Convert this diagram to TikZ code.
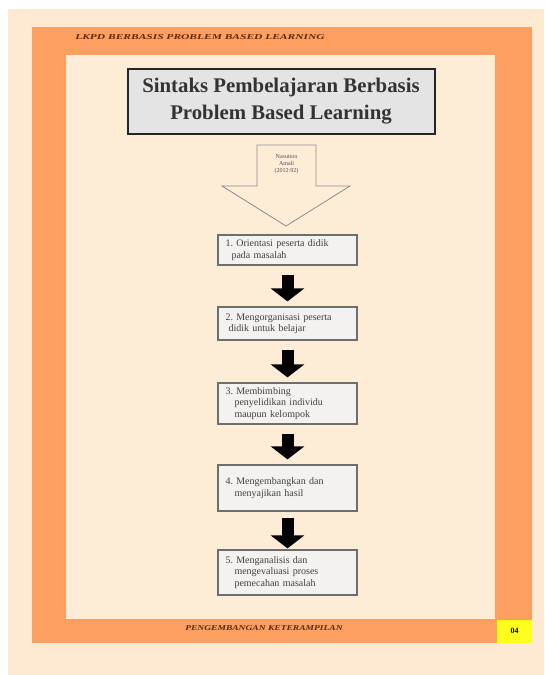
\documentclass[tikz,border=0pt]{standalone}
\usepackage{fontspec}
\setmainfont{Liberation Serif}
\usetikzlibrary{arrows.meta}
\frenchspacing
\definecolor{pagebg}{HTML}{FEEAD2}
\definecolor{frameor}{HTML}{FD9F60}
\definecolor{innerbg}{HTML}{FEEDD6}
\definecolor{titlefill}{HTML}{E4E4E4}
\definecolor{stepfill}{HTML}{F3F2F0}
\definecolor{stepline}{HTML}{6E6E6E}
\definecolor{hdrtext}{HTML}{5A2A10}
\definecolor{pgyellow}{HTML}{FFFF1E}
\tikzset{
  stepbox/.style={draw=stepline, line width=1.2pt, fill=stepfill, minimum width=139pt,
    text width=124pt, align=left, inner xsep=7.5pt, inner ysep=3.5pt,
    font=\fontsize{10}{11.3}\selectfont, text=black!75},
  blackarrow/.style={line width=12pt, black, shorten <=9pt, shorten >=5pt,
    -{Triangle[width=33pt,length=13pt]}},
  hdr/.style={font=\fontsize{7.5}{8}\selectfont\bfseries\itshape, text=hdrtext, inner sep=0pt}
}
\begin{document}
\begin{tikzpicture}[x=1pt,y=1pt]
\useasboundingbox (0,0) rectangle (544,-675);
% page background
\fill[white] (0,0) rectangle (544,-675);
\fill[pagebg] (8,-9) rectangle (544,-675);
% orange frame
\fill[frameor] (32,-27) rectangle (532,-643);
\fill[innerbg] (66,-55) rectangle (495,-619);
% page number box
\fill[pgyellow] (497,-620) rectangle (532,-643);
\node[font=\fontsize{8}{9}\selectfont\bfseries, inner sep=0pt] (pgnum) at (514.5,-631) {04};
% header and footer
\node[hdr, anchor=west, xscale=1.53] (header) at (75,-37) {LKPD BERBASIS PROBLEM BASED LEARNING};
\node[hdr, anchor=west, xscale=1.27] (footer) at (185,-628) {PENGEMBANGAN KETERAMPILAN};
% title box
\node[draw=black!85, line width=2pt, fill=titlefill, minimum width=307pt, minimum height=65pt,
  align=center, font=\fontsize{20.8}{27}\selectfont\bfseries, text=black!80] (title) at (281,-101)
  {Sintaks Pembelajaran Berbasis\\Problem Based Learning};
% big hollow arrow
\draw[draw=black!45, line width=0.8pt, fill=innerbg]
  (257,-145) -- (316,-145) -- (316,-186) -- (350,-186) -- (286,-226) -- (222,-186) -- (257,-186) -- cycle;
\node[align=center, font=\fontsize{6}{7}\selectfont, text=black!70, inner sep=0pt] (source) at (286.5,-164)
  {Nasution\\Amali\\(2012:92)};
% steps
\node[stepbox, minimum height=30pt] (s1) at (287.5,-250)
  {1. Orientasi peserta didik\\\hspace*{6pt}pada masalah};
\node[stepbox, minimum height=33pt] (s2) at (287.5,-323.5)
  {2. Mengorganisasi peserta\\\hspace*{3pt}didik untuk belajar};
\node[stepbox, minimum height=41pt] (s3) at (287.5,-403.5)
  {3. Membimbing\\\hspace*{9pt}penyelidikan individu\\\hspace*{9pt}maupun kelompok};
\node[stepbox, minimum height=46pt] (s4) at (287.5,-488)
  {4. Mengembangkan dan\\\hspace*{9pt}menyajikan hasil\\[5pt]};
\node[stepbox, minimum height=45pt] (s5) at (287.5,-572.5)
  {5. Menganalisis dan\\\hspace*{9pt}mengevaluasi proses\\\hspace*{9pt}pemecahan masalah};
% black arrows
\draw[blackarrow] (s1.south) -- (s2.north);
\draw[blackarrow] (s2.south) -- (s3.north);
\draw[blackarrow] (s3.south) -- (s4.north);
\draw[blackarrow, shorten <=6pt, shorten >=1pt] (s4.south) -- (s5.north);
\end{tikzpicture}
\end{document}
